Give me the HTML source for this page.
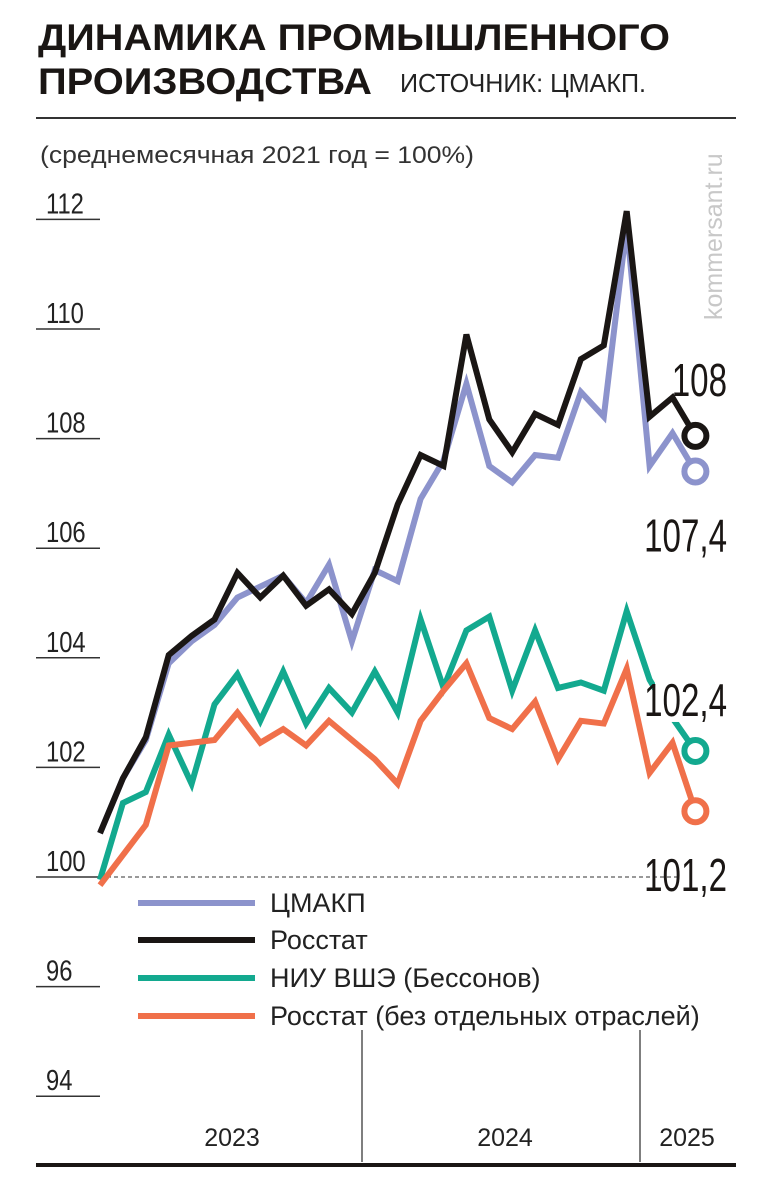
<!DOCTYPE html>
<html><head><meta charset="utf-8"><style>
body{margin:0;background:#fff;width:772px;height:1200px;overflow:hidden;font-family:"Liberation Sans Narrow","Liberation Sans",sans-serif;}
svg{display:block}
</style></head><body>
<svg id="c" width="772" height="1200" viewBox="0 0 772 1200">
<text x="38" y="50" font-family="Liberation Sans" font-weight="bold" font-size="37" fill="#1a1614" textLength="632" lengthAdjust="spacingAndGlyphs">ДИНАМИКА ПРОМЫШЛЕННОГО</text>
<text x="38" y="94" font-family="Liberation Sans" font-weight="bold" font-size="37" fill="#1a1614" textLength="334" lengthAdjust="spacingAndGlyphs">ПРОИЗВОДСТВА</text>
<text x="400" y="92" font-size="26" fill="#222" textLength="246" lengthAdjust="spacingAndGlyphs">ИСТОЧНИК: ЦМАКП.</text>
<line x1="36" y1="118" x2="736" y2="118" stroke="#333" stroke-width="2"/>
<text x="40" y="163" font-size="24" fill="#333" textLength="434" lengthAdjust="spacingAndGlyphs">(среднемесячная 2021 год = 100%)</text>
<text transform="translate(722,320) rotate(-90)" font-family="Liberation Sans" font-size="25" fill="#c8c8c8">kommersant.ru</text>
<g id="axis"></g>
<line x1="100" y1="877" x2="680" y2="877" stroke="#333" stroke-width="1" stroke-dasharray="4,3"/>
<g id="lines"></g>
<g id="legend"></g>
<line x1="362" y1="1030" x2="362" y2="1162" stroke="#555" stroke-width="1.5"/>
<line x1="640" y1="1030" x2="640" y2="1162" stroke="#555" stroke-width="1.5"/>
<text x="232" y="1146" font-size="25" fill="#222" text-anchor="middle">2023</text>
<text x="505" y="1146" font-size="25" fill="#222" text-anchor="middle">2024</text>
<text x="687" y="1146" font-size="25" fill="#222" text-anchor="middle">2025</text>
<line x1="36" y1="1165" x2="736" y2="1165" stroke="#1a1614" stroke-width="4"/>
</svg>
<script>
const tickLabels=["112","110","108","106","104","102","100","96","94"];
const tickY=[112,110,108,106,104,102,100,98,96];
const cmakp=[100.8,101.8,102.5,103.9,104.3,104.6,105.1,105.3,105.5,105.0,105.7,104.3,105.6,105.4,106.9,107.6,109.0,107.5,107.2,107.7,107.65,108.85,108.4,111.9,107.5,108.1,107.4];
const rosstat=[100.8,101.8,102.55,104.05,104.4,104.7,105.55,105.1,105.5,104.95,105.25,104.8,105.55,106.8,107.7,107.5,109.9,108.35,107.75,108.45,108.25,109.45,109.7,112.15,108.4,108.75,108.05];
const hse=[99.95,101.35,101.55,102.6,101.7,103.15,103.7,102.85,103.75,102.8,103.45,103.0,103.75,103.0,104.7,103.45,104.5,104.75,103.4,104.5,103.45,103.55,103.4,104.85,103.6,102.9,102.3];
const rosstatEx=[99.85,100.4,100.95,102.4,102.45,102.5,103.0,102.45,102.7,102.4,102.85,102.5,102.15,101.7,102.85,103.4,103.9,102.9,102.7,103.2,102.15,102.85,102.8,103.8,101.9,102.45,101.2];
const endLabels=["108","107,4","102,4","101,2"];
const legendNames=["ЦМАКП","Росстат","НИУ ВШЭ (Бессонов)","Росстат (без отдельных отраслей)"];
const NS="http://www.w3.org/2000/svg";
const X=i=>100+i*22.9;
const Y=v=>877-(v-100)*54.8;
function mk(t,a,p){const e=document.createElementNS(NS,t);for(const k in a)e.setAttribute(k,a[k]);p.appendChild(e);return e;}
const ax=document.getElementById('axis');
tickLabels.forEach((l,i)=>{const y=Y(tickY[i]);
 const ln=mk('line',{x1:36,x2:100,y1:y,y2:y,stroke:'#333','stroke-width':1.5},ax);
 
 
 const t=mk('text',{x:46,y:y-6,'font-size':29,fill:'#222',transform:`translate(46,0) scale(0.82,1) translate(-46,0)`},ax);t.textContent=l;
 
 
});
const g=document.getElementById('lines');
const series=[[cmakp,'#8c93cc','line-cmakp'],[rosstat,'#1a1614','line-rosstat'],[hse,'#13a98f','line-hse'],[rosstatEx,'#f0704a','line-rosstat-ex']];
series.forEach(([d,c,n])=>{
 const p=mk('polyline',{points:d.map((v,i)=>X(i)+','+Y(v)).join(' '),fill:'none',stroke:c,'stroke-width':6,'stroke-linejoin':'miter'},g);
 
 
});
const lab=[[endLabels[0],Y(rosstat[26])-40],[endLabels[1],Y(cmakp[26])+80],[endLabels[2],Y(hse[26])-35],[endLabels[3],Y(rosstatEx[26])+80]];
lab.forEach(([s,y],k)=>{
 if(k==2){const r=mk('rect',{x:655,y:y-44,width:75,height:50,fill:'#fff'},g);}
 const t=mk('text',{x:727,y:y,'font-size':46,fill:'#1a1614','text-anchor':'end',transform:`translate(727,${y}) scale(0.72,1) translate(-727,${-y})`},g);
 t.textContent=s;
 
 
});
series.forEach(([d,c])=>{
 const ci=mk('circle',{cx:X(26),cy:Y(d[26]),r:11,fill:'#fff',stroke:c,'stroke-width':6},g);
 
 
});
const lg=document.getElementById('legend');
const lys=[903,940,978,1016];
legendNames.forEach((n,i)=>{
 const l=mk('line',{x1:138,x2:255,y1:lys[i],y2:lys[i],stroke:series[i][1],'stroke-width':6},lg);
 
 
 const t=mk('text',{x:270,y:lys[i]+9,'font-size':27,fill:'#222'},lg);t.textContent=n;
 
 
});
</script>
</body></html>
